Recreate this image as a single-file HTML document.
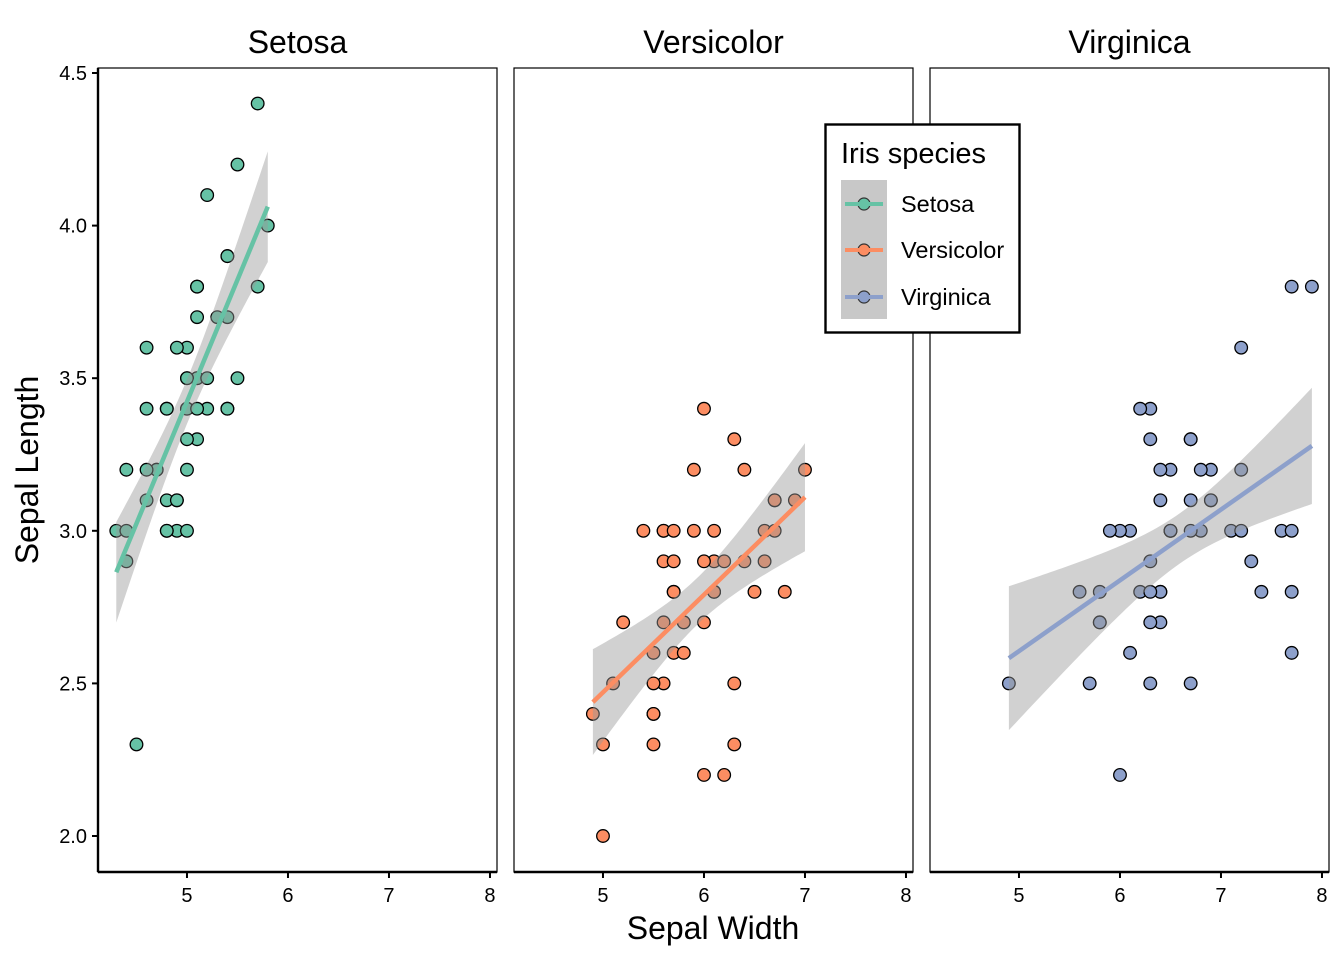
<!DOCTYPE html>
<html><head><meta charset="utf-8"><style>
body{margin:0;background:#fff}
svg{display:block;font-family:"Liberation Sans",Arial,sans-serif}
</style></head><body>
<svg id="chart" width="1344" height="960"></svg>
<script>
const species = ["Setosa","Versicolor","Virginica"];
const colors = ["#66C2A5","#FC8D62","#8DA0CB"];
const xTicks = [5,6,7,8];
const yTicks = [2.0,2.5,3.0,3.5,4.0,4.5];
const setosaX = [5.1,4.9,4.7,4.6,5.0,5.4,4.6,5.0,4.4,4.9,5.4,4.8,4.8,4.3,5.8,5.7,5.4,5.1,5.7,5.1,5.4,5.1,4.6,5.1,4.8,5.0,5.0,5.2,5.2,4.7,4.8,5.4,5.2,5.5,4.9,5.0,5.5,4.9,4.4,5.1,5.0,4.5,4.4,5.0,5.1,4.8,5.1,4.6,5.3,5.0];
const setosaY = [3.5,3.0,3.2,3.1,3.6,3.9,3.4,3.4,2.9,3.1,3.7,3.4,3.0,3.0,4.0,4.4,3.9,3.5,3.8,3.8,3.4,3.7,3.6,3.3,3.4,3.0,3.4,3.5,3.4,3.2,3.1,3.4,4.1,4.2,3.1,3.2,3.5,3.6,3.0,3.4,3.5,2.3,3.2,3.5,3.8,3.0,3.8,3.2,3.7,3.3];
const versicolorX = [7.0,6.4,6.9,5.5,6.5,5.7,6.3,4.9,6.6,5.2,5.0,5.9,6.0,6.1,5.6,6.7,5.6,5.8,6.2,5.6,5.9,6.1,6.3,6.1,6.4,6.6,6.8,6.7,6.0,5.7,5.5,5.5,5.8,6.0,5.4,6.0,6.7,6.3,5.6,5.5,5.5,6.1,5.8,5.0,5.6,5.7,5.7,6.2,5.1,5.7];
const versicolorY = [3.2,3.2,3.1,2.3,2.8,2.8,3.3,2.4,2.9,2.7,2.0,3.0,2.2,2.9,2.9,3.1,3.0,2.7,2.2,2.5,3.2,2.8,2.5,2.8,2.9,3.0,2.8,3.0,2.9,2.6,2.4,2.4,2.7,2.7,3.0,3.4,3.1,2.3,3.0,2.5,2.6,3.0,2.6,2.3,2.7,3.0,2.9,2.9,2.5,2.8];
const virginicaX = [6.3,5.8,7.1,6.3,6.5,7.6,4.9,7.3,6.7,7.2,6.5,6.4,6.8,5.7,5.8,6.4,6.5,7.7,7.7,6.0,6.9,5.6,7.7,6.3,6.7,7.2,6.2,6.1,6.4,7.2,7.4,7.9,6.4,6.3,6.1,7.7,6.3,6.4,6.0,6.9,6.7,6.9,5.8,6.8,6.7,6.7,6.3,6.5,6.2,5.9];
const virginicaY = [3.3,2.7,3.0,2.9,3.0,3.0,2.5,2.9,2.5,3.6,3.2,2.7,3.0,2.5,2.8,3.2,3.0,3.8,2.6,2.2,3.2,2.8,2.8,2.7,3.3,3.2,2.8,3.0,2.8,3.0,2.8,3.8,2.8,2.8,2.6,3.0,3.4,3.1,3.0,3.1,3.1,3.1,2.7,3.2,3.3,3.0,2.5,3.0,3.4,3.0];
const dataX=[setosaX,versicolorX,virginicaX], dataY=[setosaY,versicolorY,virginicaY];

const svg=document.getElementById('chart');
const NS='http://www.w3.org/2000/svg';
function mk(tag,attrs,parent,text){const e=document.createElementNS(NS,tag);for(const k in attrs)e.setAttribute(k,attrs[k]);if(text!==undefined)e.textContent=text;(parent||svg).appendChild(e);return e;}
const panelLefts=[98,514,930], PW=399, TOP=68, BOT=872;
const XMIN=4.119, XPU=101;
function sx(p,v){return panelLefts[p]+(v-XMIN)*XPU;}
function sy(v){return 836-(v-2.0)*305.2;}
const tq=2.0106;

for(let p=0;p<3;p++){
  const g=mk('g',{},svg);
  
  
  const L=panelLefts[p];
  const fr=mk('rect',{x:L,y:TOP,width:PW,height:BOT-TOP,fill:'#fff',stroke:'#000','stroke-width':1.2},g);
  
  
  const st=mk('text',{x:L+PW/2,y:53,'text-anchor':'middle','font-size':32},g,species[p]);
  
  
  const xs=dataX[p], ys=dataY[p], n=xs.length;
  const mx=xs.reduce((a,b)=>a+b)/n, my=ys.reduce((a,b)=>a+b)/n;
  let sxx=0,sxy=0;for(let i=0;i<n;i++){sxx+=(xs[i]-mx)**2;sxy+=(xs[i]-mx)*(ys[i]-my);}
  const b=sxy/sxx, a=my-b*mx;
  let sse=0;for(let i=0;i<n;i++)sse+=(ys[i]-a-b*xs[i])**2;
  const s=Math.sqrt(sse/(n-2));
  const xmin=Math.min(...xs), xmax=Math.max(...xs);
  for(let i=0;i<n;i++){
    const c=mk('circle',{cx:sx(p,xs[i]),cy:sy(ys[i]),r:6.3,fill:colors[p],stroke:'#000','stroke-width':1.3},g);
    
    
  }
  const up=[],lo=[];
  for(let k=0;k<=80;k++){const x=xmin+(xmax-xmin)*k/80;const f=a+b*x;const se=s*Math.sqrt(1/n+(x-mx)**2/sxx);
    up.push(sx(p,x)+','+sy(f+tq*se));lo.unshift(sx(p,x)+','+sy(f-tq*se));}
  const band=mk('polygon',{points:up.concat(lo).join(' '),fill:'#999999','fill-opacity':0.45},g);
  
  
  const ln=mk('line',{x1:sx(p,xmin),y1:sy(a+b*xmin),x2:sx(p,xmax),y2:sy(a+b*xmax),stroke:colors[p],'stroke-width':4.5},g);
  
  
  mk('line',{x1:L,y1:BOT,x2:L+PW,y2:BOT,stroke:'#000','stroke-width':2.4},g);
  for(const t of xTicks){
    mk('line',{x1:sx(p,t),y1:BOT,x2:sx(p,t),y2:BOT+6,stroke:'#000','stroke-width':2},g);
    const tl=mk('text',{x:sx(p,t),y:BOT+30,'text-anchor':'middle','font-size':20},g,t);
    
    
  }
  if(p===0){
    mk('line',{x1:L,y1:TOP,x2:L,y2:BOT,stroke:'#000','stroke-width':2.4},g);
    for(const t of yTicks){
      mk('line',{x1:L-6,y1:sy(t),x2:L,y2:sy(t),stroke:'#000','stroke-width':2},g);
      const tl=mk('text',{x:L-11,y:sy(t)+7,'text-anchor':'end','font-size':20},g,t.toFixed(1));
      
      
    }
  }
}
const xt=mk('text',{x:713,y:939,'text-anchor':'middle','font-size':32},svg,'Sepal Width');


const yt=mk('text',{x:0,y:0,'text-anchor':'middle','font-size':32,transform:'translate(38,470) rotate(-90)'},svg,'Sepal Length');


const lg=mk('g',{},svg);


mk('rect',{x:825.5,y:124.5,width:194,height:208,fill:'#fff',stroke:'#000','stroke-width':2.4},lg);
const lt=mk('text',{x:841,y:163,'font-size':29},lg,'Iris species');


mk('rect',{x:841,y:180,width:46,height:139,fill:'#C8C8C8'},lg);
const ly=[204,250,297];
for(let i=0;i<3;i++){
  const e=mk('g',{},lg);
  
  
  mk('circle',{cx:864,cy:ly[i],r:6,fill:colors[i],stroke:'#333','stroke-width':1.2},e);
  mk('line',{x1:845,y1:ly[i],x2:883,y2:ly[i],stroke:colors[i],'stroke-width':4},e);
  mk('text',{x:901,y:ly[i]+8,'font-size':23.5},e,species[i]);
}
</script>
</body></html>
